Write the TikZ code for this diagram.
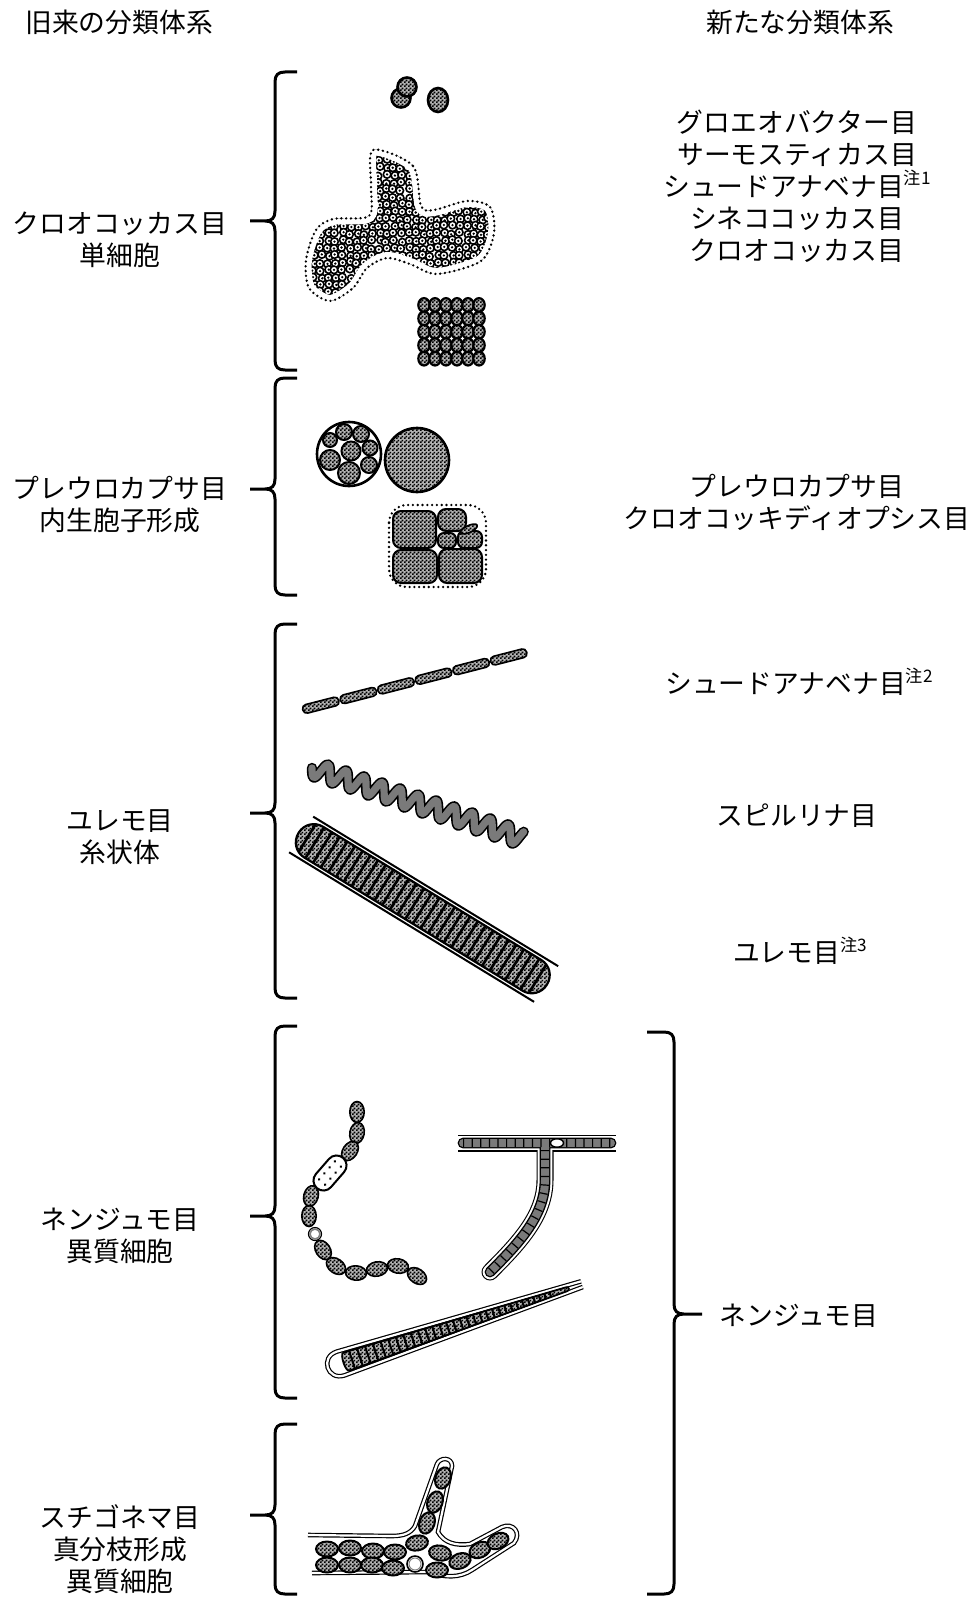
\documentclass[tikz,border=0pt]{standalone}
\usepackage{fontspec}
\newfontfamily\jpfont{Noto Sans CJK JP}
\usetikzlibrary{patterns}

\pgfdeclarepatternformonly{checks}{\pgfpointorigin}{\pgfpoint{2pt}{2pt}}{\pgfpoint{2pt}{2pt}}{%
  \pgfpathrectangle{\pgfpointorigin}{\pgfpoint{1pt}{1pt}}%
  \pgfpathrectangle{\pgfpoint{1pt}{1pt}}{\pgfpoint{1pt}{1pt}}%
  \pgfusepath{fill}}

\newcommand{\chu}[1]{\raisebox{0.42em}{\fontsize{8.6}{8.6}\selectfont 注#1}}
\newcommand{\colonyline}{plot[smooth cycle] coordinates {(373,150) (413,166) (421,206) (434,210) (467,201) (490,207) (494,233) (481,261) (437,274) (410,264) (387,258) (367,268) (353,288) (330,301) (309,288) (306,260) (316,230) (333,219) (369,216) (371,186)}}

\colorlet{cellgray}{black!52}

\tikzset{
  lbl/.style={font=\jpfont\fontsize{13.4}{16}\selectfont, align=center, inner sep=0pt},
  brace/.style={line width=1.5pt, line join=round},
  cell/.style={draw, line width=1pt, preaction={fill=black!30}, pattern=checks},
  tiny/.style={draw, line width=0.8pt, fill=white},
  gel/.style={line width=1.3pt, dash pattern=on 0pt off 2.4pt, line cap=round},
  sheath/.style={double, double distance=1.1pt, line width=0.6pt},
}

\begin{document}
\begin{tikzpicture}[x=0.5pt, y=-0.5pt]
	\useasboundingbox (0,0) rectangle (978,1599);

	% headings
	\node[lbl] (old) at (119,22) {旧来の分類体系};
	\node[lbl] (new) at (800,22) {新たな分類体系};

	% old orders
	\node[lbl] (o1) at (120,240) {クロオコッカス目\\単細胞};
	\node[lbl] (o2) at (120,505) {プレウロカプサ目\\内生胞子形成};
	\node[lbl] (o3) at (120,837) {ユレモ目\\糸状体};
	\node[lbl] (o4) at (120,1236) {ネンジュモ目\\異質細胞};
	\node[lbl] (o5) at (120,1549) {スチゴネマ目\\真分枝形成\\異質細胞};

	% new orders
	\node[lbl] (n1) at (797,186) {グロエオバクター目\\サーモスティカス目\\シュードアナベナ目\chu{1}\\シネココッカス目\\クロオコッカス目};
	\node[lbl] (n2) at (797,502) {プレウロカプサ目\\クロオコッキディオプシス目};
	\node[lbl] (n3) at (799,682) {シュードアナベナ目\chu{2}};
	\node[lbl] (n4) at (797,816) {スピルリナ目};
	\node[lbl] (n5) at (800,951) {ユレモ目\chu{3}};
	\node[lbl] (n6) at (799,1316) {ネンジュモ目};

	% braces
	\foreach \t/\m/\b in {72/221/370, 378/489/595, 624/813/998, 1026/1216/1398, 1424/1515/1594}
		\draw[brace] (297,\t) -- (285,\t) .. controls (278,\t) and (275,\t+3) .. (275,\t+10) -- (275,\m-10) .. controls (275,\m-3) and (272,\m) .. (265,\m) -- (250,\m)
			(265,\m) .. controls (272,\m) and (275,\m+3) .. (275,\m+10) -- (275,\b-10) .. controls (275,\b-3) and (278,\b) .. (285,\b) -- (297,\b);
	\draw[brace] (647,1032) -- (664,1032) .. controls (671,1032) and (674,1035) .. (674,1042) -- (674,1304) .. controls (674,1311) and (677,1314) .. (684,1314) -- (702,1314)
		(684,1314) .. controls (677,1314) and (674,1317) .. (674,1324) -- (674,1584) .. controls (674,1591) and (671,1594) .. (664,1594) -- (647,1594);

	% single cells
	\draw[cell, line width=1.3pt] (401,98) circle[radius=9.5];
	\draw[cell, line width=1.3pt] (407,87) circle[radius=9.5];
	\draw[cell, line width=1.3pt] (438,100) circle[x radius=10, y radius=12];

	% colony in gel
	\begin{scope}
		\clip \colonyline;
		\pgfmathsetseed{3}
		\foreach \i in {0,...,27}
			\foreach \j in {0,...,22} {
				\pgfmathsetmacro\cx{299+7.3*\i+1.5*rand}
				\pgfmathsetmacro\cy{146+7.3*\j+1.5*rand}
				\draw[tiny] (\cx,\cy) circle[radius=3.8];
				\fill (\cx,\cy) circle[radius=1.3];
			}
		\draw[white, line width=6pt] \colonyline;
	\end{scope}
	\draw[gel] \colonyline;

	% flat colony
	\foreach \i in {0,...,5}
		\foreach \j in {0,...,4}
			\draw[cell, line width=1.1pt] ({424+11*\i},{305+13.4*\j}) circle[x radius=5.7, y radius=6.9];

	% baeocytes
	\draw[line width=1.3pt, fill=white] (349,454) circle[radius=32];
	\foreach \dx/\dy/\r in {-19/-14/7, -5/-22/8, 12/-20/8, 2/-3/9.5, 21/-6/7.5, -19/6/10, 0/19/11, 20/11/8}
		\draw[cell] ({349+(\dx)},{454+(\dy)}) circle[radius=\r];
	\draw[cell, line width=1.3pt] (417,460) circle[radius=32];

	% dividing cluster
	\draw[gel, rounded corners=9pt] (389,505) rectangle (486,587);
	\draw[cell, rounded corners=4pt] (393,511) rectangle (436,548);
	\draw[cell, rounded corners=4pt] (393,550) rectangle (437,583);
	\draw[cell, rounded corners=4pt] (439,549) rectangle (482,583);
	\draw[cell, rounded corners=4pt] (438,509) rectangle (466,531);
	\draw[cell, rounded corners=3pt] (438,533) rectangle (456,548);
	\draw[cell, rounded corners=3pt] (458,531) rectangle (482,548);
	\draw[cell, line width=0.8pt] (469,529) circle[x radius=9, y radius=3.5, rotate=25];

	% thin filament
	\begin{scope}[shift={(302,710)}, rotate=14.4]
		\foreach \k in {0,...,5}
			\draw[cell, line width=0.8pt, rounded corners=2pt] ({\k*38.8+0.8},-4.4) rectangle ({\k*38.8+38},4.4);
	\end{scope}

	% spiral
	\begin{scope}[shift={(312,768)}, rotate=-18.4]
		\draw[line width=5.2pt, line cap=round, line join=round] plot[domain=0:221, samples=180, smooth] (\x,{8.5*sin(\x/19*360)});
		\draw[cellgray, line width=3.6pt, line cap=round, line join=round] plot[domain=0:221, samples=180, smooth] (\x,{8.5*sin(\x/19*360)});
	\end{scope}

	% thick trichome
	\begin{scope}[shift={(302,835)}, rotate=-31.4]
		\draw[cell, line width=1.1pt, rounded corners=8.8pt] (-4,-18) rectangle (287,18);
		\begin{scope}
			\clip[rounded corners=8.8pt] (-4,-18) rectangle (287,18);
			\foreach \k in {0,...,30}
				\draw[line width=1.3pt] ({6+9*\k},-18) -- ({6+9*\k},18);
		\end{scope}
		\draw[line width=1pt] (0,-21.5) -- (287,-21.5) (-2,21.5) -- (285,21.5);
	\end{scope}

	% moniliform chain
	\foreach \x/\y/\a in {357/1112/90, 357/1133/80, 350/1151/56, 311/1196/75, 309/1216/90, 323/1250/-57, 336/1266/-35, 356/1273/-4, 377/1269/10, 398/1266/-10, 417/1276/-35}
		\draw[cell, line width=0.8pt] (\x,\y) circle[x radius=10.5, y radius=7.2, rotate=\a];
	\begin{scope}[shift={(330,1173)}, rotate=49]
		\draw[line width=1pt, fill=white, rounded corners=5pt] (-20,-10) rectangle (20,10);
		\foreach \p in {-12,-4,4,12}
			\foreach \q in {-4,4}
				\fill (\p,\q) circle[radius=1.4];
	\end{scope}
	\draw[line width=0.6pt, fill=white] (315,1234) circle[radius=6.5];
	\draw[gray, line width=0.8pt] (315,1234) circle[radius=5];

	% false branching
	\draw[line width=8.5pt] (458,1143) -- (616,1143);
	\draw[line width=8.5pt, line cap=round] (545,1146) -- (545,1180) .. controls (545,1215) and (520,1242) .. (490,1272);
	\draw[white, line width=7.4pt] (458,1143) -- (616,1143);
	\draw[white, line width=7.4pt, line cap=round] (545,1146) -- (545,1180) .. controls (545,1215) and (520,1242) .. (490,1272);
	\draw[line width=5.4pt, line cap=round] (463,1143) -- (611,1143) (545,1146) -- (545,1180) .. controls (545,1215) and (520,1242) .. (490,1272);
	\draw[cellgray, line width=4pt, line cap=round] (463,1143) -- (611,1143) (545,1146) -- (545,1180) .. controls (545,1215) and (520,1242) .. (490,1272);
	\draw[line width=4pt, dash pattern=on 0.6pt off 3.7pt] (463,1143) -- (611,1143) (545,1150) -- (545,1180) .. controls (545,1215) and (520,1242) .. (490,1272);
	\draw[line width=0.7pt, fill=white] (557,1143) circle[x radius=6.5, y radius=4.2];

	% tapering trichome
	\begin{scope}[shift={(333,1366)}, rotate=18.2]
		\draw[sheath] (262,-3) -- (8,-12.5) .. controls (-10,-12.5) and (-10,12.5) .. (8,12.5) -- (262,3);
		\draw[cell, line width=0.9pt] (14,-9.5) -- (246,-2) .. controls (249,-2) and (249,2) .. (246,2) -- (14,9.5) .. controls (10,9.5) and (10,-9.5) .. (14,-9.5) -- cycle;
		\foreach \k in {0,...,30} {
			\pgfmathsetmacro\uu{20+8.4*\k-0.048*\k*\k}
			\pgfmathsetmacro\hh{9.5-7.5*(\uu-14)/232}
			\draw[line width=1pt] (\uu,-\hh) -- (\uu,\hh);
		}
	\end{scope}

	% true branching
	\draw[sheath] (308,1535) -- (392,1536) .. controls (404,1536) and (411,1533) .. (415,1526) -- (437,1464) .. controls (440,1457) and (452,1457) .. (452,1466) -- (438,1532) .. controls (444,1543) and (456,1546) .. (470,1544) -- (502,1527) .. controls (513,1522) and (522,1533) .. (514,1543) -- (472,1570) .. controls (460,1578) and (444,1578) .. (430,1572) -- (312,1573);
	\foreach \x/\y/\a in {327/1549/0, 350/1548/0, 373/1551/0, 395/1552/0, 327/1565/0, 350/1565/0, 372/1565/0, 393/1568/0, 437/1570/0, 417/1543/10, 440/1553/-10, 460/1561/20, 480/1550/24, 498/1541/25, 443/1478/70, 435/1502/70, 427/1523/70}
		\draw[cell, line width=1pt] (\x,\y) circle[x radius=11, y radius=7.5, rotate=\a];
	\draw[line width=0.8pt, fill=white] (415,1564) circle[radius=8];
	\draw[gray, line width=0.5pt] (415,1564) circle[radius=6];
\end{tikzpicture}
\end{document}
